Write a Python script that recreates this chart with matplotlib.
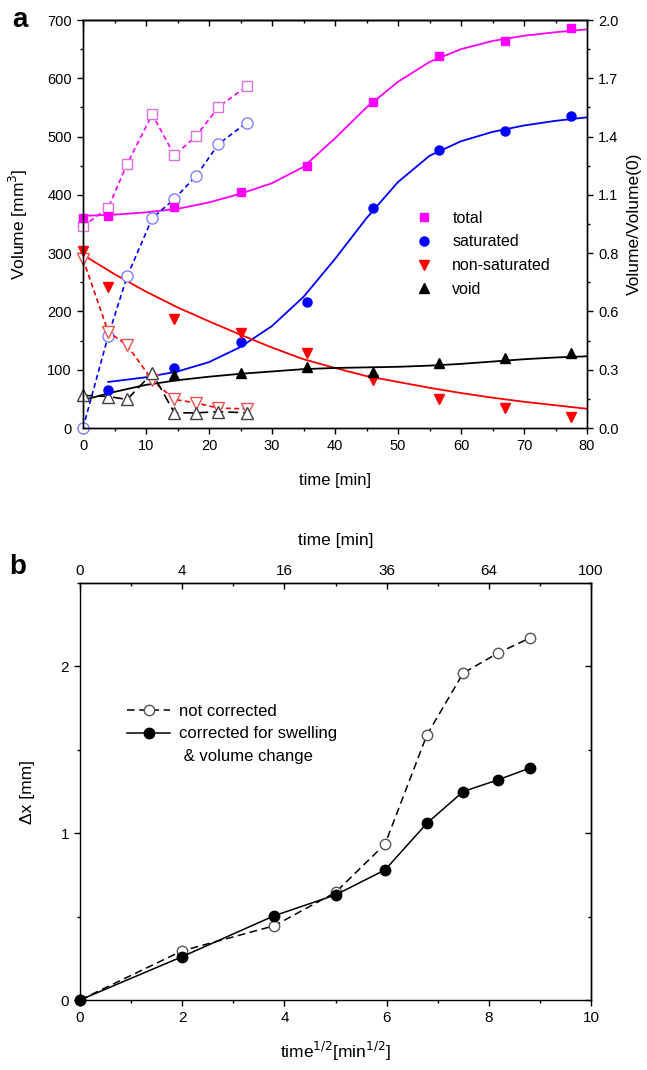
import matplotlib
matplotlib.use("Agg")
import matplotlib.pyplot as plt
from matplotlib.ticker import MultipleLocator, FixedLocator, NullFormatter
from matplotlib.lines import Line2D

plt.rcParams['font.family'] = ['Liberation Sans', 'DejaVu Sans']
plt.rcParams['axes.linewidth'] = 1.0

# ---- panel a: measured volumes (filled) ----
t_meas = [0, 4, 14.5, 25, 35.5, 46, 56.5, 67, 77.5]
total = [360, 363, 380, 405, 450, 560, 638, 664, 686]
t_sat = [4, 14.5, 25, 35.5, 46, 56.5, 67, 77.5]
saturated = [66, 103, 148, 216, 378, 477, 509, 535]
t_nonsat = [0, 4, 14.5, 25, 35.5, 46, 56.5, 67, 77.5]
nonsaturated = [303, 242, 187, 163, 129, 82, 49, 34, 19]
t_void = [14.5, 25, 35.5, 46, 56.5, 67, 77.5]
void = [91, 94, 105, 96, 111, 120, 128]

# fitted curves
t_fit = [0, 5, 10, 15, 20, 25, 30, 35, 40, 45, 50, 55, 60, 65, 70, 75, 80]
total_fit = [364, 366, 370, 376, 387, 402, 420, 448, 497, 550, 594, 628, 650, 664, 673, 679, 684]
nonsat_fit = [297, 264, 234, 207, 183, 160, 138, 118, 103, 89, 79, 69, 60, 52, 45, 39, 33]
void_fit = [48, 62, 74, 82, 88, 93, 97, 101, 103, 104, 105, 107, 110, 114, 118, 121, 123]
t_sat_fit = [4, 10, 15, 20, 25, 30, 35, 40, 45, 50, 55, 60, 65, 70, 75, 80]
sat_fit = [79, 87, 97, 113, 139, 175, 225, 290, 360, 422, 467, 492, 508, 519, 527, 533]

# open symbols (dashed)
t_open = [0, 4, 7, 11, 14.5, 18, 21.5, 26]
total_open = [346, 378, 453, 538, 468, 501, 551, 586]
sat_open = [0, 158, 260, 360, 393, 433, 487, 524]
nonsat_open = [290, 165, 142, 82, 49, 43, 34, 33]
void_open = [56, 54, 49, 94, 26, 26, 28, 26]

v0 = 350
ratio_labels = ['0.0', '0.3', '0.6', '0.8', '1.1', '1.4', '1.7', '2.0']

# ---- panel b ----
sqrt_t = [0, 2.0, 3.8, 5.0, 5.97, 6.79, 7.5, 8.18, 8.8]
dx_not_corr = [0, 0.295, 0.445, 0.645, 0.935, 1.59, 1.96, 2.08, 2.17]
dx_corr = [0, 0.26, 0.505, 0.63, 0.78, 1.06, 1.25, 1.32, 1.39]
top_ticks = [0, 2, 4, 6, 8, 10]

W, H = 647, 1070
fig = plt.figure(figsize=(W / 100, H / 100), dpi=100)

# ================= panel a =================
ax = fig.add_axes([83 / W, 1 - 428 / H, 504 / W, 408 / H])
ax.set_xlim(0, 80)
ax.set_ylim(0, 700)

magenta, blue, red = '#ff00ff', '#0000ff', '#ff0000'

ax.plot(t_fit, total_fit, color=magenta, lw=1.3)
ax.plot(t_sat_fit, sat_fit, color=blue, lw=1.3)
ax.plot(t_fit, nonsat_fit, color=red, lw=1.3)
ax.plot(t_fit, void_fit, color='black', lw=1.3)

ax.plot(t_open, total_open, color=magenta, ls=(0, (3, 2)), lw=1.2,
        marker='s', ms=7, mfc='white', mec='#e070e0', mew=1.0, clip_on=False)
ax.plot(t_open, sat_open, color=blue, ls=(0, (3, 2)), lw=1.2,
        marker='o', ms=8, mfc='white', mec='#8080ff', mew=1.0, clip_on=False)
ax.plot(t_open, nonsat_open, color=red, ls=(0, (3, 2)), lw=1.2,
        marker='v', ms=8, mfc='white', mec='#f05050', mew=1.0, clip_on=False)
ax.plot(t_open, void_open, color='black', ls=(0, (6, 3)), lw=1.2,
        marker='^', ms=8, mfc='white', mec='#404040', mew=1.0, clip_on=False)

h1, = ax.plot(t_meas, total, ls='none', marker='s', ms=6, color=magenta, clip_on=False)
h2, = ax.plot(t_sat, saturated, ls='none', marker='o', ms=6.5, color=blue, clip_on=False)
h3, = ax.plot(t_nonsat, nonsaturated, ls='none', marker='v', ms=7, color=red, clip_on=False)
h4, = ax.plot(t_void, void, ls='none', marker='^', ms=7, color='black', clip_on=False)

ax.legend([h1, h2, h3, h4], ['total', 'saturated', 'non-saturated', 'void'],
          loc='upper left', bbox_to_anchor=(0.66, 0.533), frameon=False,
          fontsize=11.5, handlelength=1.0, handletextpad=1.3, labelspacing=0.55,
          borderpad=0, borderaxespad=0)

ax.xaxis.set_major_locator(MultipleLocator(10))
ax.xaxis.set_minor_locator(MultipleLocator(5))
ax.yaxis.set_major_locator(MultipleLocator(100))
ax.yaxis.set_minor_locator(MultipleLocator(50))
ax.tick_params(which='both', direction='out', labelsize=10.5, top=False, right=False)
ax.tick_params(which='major', length=4.5, width=1.0)
ax.tick_params(which='minor', length=2.5, width=1.0)

top_a = ax.secondary_xaxis('top')
top_a.xaxis.set_major_locator(MultipleLocator(10))
top_a.xaxis.set_minor_locator(MultipleLocator(5))
top_a.tick_params(which='both', direction='in', labeltop=False)
top_a.tick_params(which='major', length=4.5, width=1.0)
top_a.tick_params(which='minor', length=2.5, width=1.0)
top_a.xaxis.set_major_formatter(NullFormatter())

axr = ax.twinx()
axr.set_ylim(0, 700 / v0)
axr.yaxis.set_major_locator(FixedLocator([v / v0 for v in range(0, 701, 100)]))
axr.set_yticklabels(ratio_labels)
axr.yaxis.set_minor_locator(FixedLocator([v / v0 for v in range(50, 701, 100)]))
axr.tick_params(which='both', direction='out', labelsize=10.5)
axr.tick_params(which='major', length=4.5, width=1.0)
axr.tick_params(which='minor', length=2.5, width=1.0)
axr.set_ylabel('Volume/Volume(0)', fontsize=12.5)
axr.yaxis.set_label_coords(1.08, 0.5)

ax.set_xlabel('time [min]', fontsize=12)
ax.xaxis.set_label_coords(0.5, -0.11)
ax.set_ylabel('Volume [mm$^3$]', fontsize=12.5)
ax.yaxis.set_label_coords(-0.105, 0.5)

fig.text(20 / W, 1 - 20 / H, 'a', fontsize=20, fontweight='bold', ha='center', va='center')

# ================= panel b =================
bx = fig.add_axes([80 / W, 70 / H, 511 / W, 417 / H])
bx.set_xlim(0, 10)
bx.set_ylim(0, 2.5)

bx.plot(sqrt_t, dx_not_corr, color='black', ls=(0, (5, 3)), lw=1.1,
        marker='o', ms=7.5, mfc='white', mec='#555555', mew=1.0, clip_on=False,
        label='not corrected')
bx.plot(sqrt_t, dx_corr, color='black', ls='-', lw=1.1,
        marker='o', ms=7.5, mfc='black', mec='black', clip_on=False,
        label='corrected for swelling')
extra = Line2D([], [], ls='none', label=' & volume change')
handles, labels = bx.get_legend_handles_labels()
bx.legend(handles + [extra], labels + [extra.get_label()],
          loc='upper left', bbox_to_anchor=(0.092, 0.71), frameon=False,
          fontsize=12, handlelength=2.6, handletextpad=0.5, labelspacing=0.45,
          borderpad=0, borderaxespad=0)

bx.xaxis.set_major_locator(MultipleLocator(2))
bx.xaxis.set_minor_locator(MultipleLocator(1))
bx.yaxis.set_major_locator(MultipleLocator(1))
bx.yaxis.set_minor_locator(MultipleLocator(0.5))
bx.tick_params(which='both', direction='out', labelsize=11, top=False, right=False)
bx.tick_params(which='major', length=4.5, width=1.0)
bx.tick_params(which='minor', length=2.5, width=1.0)

top_b = bx.secondary_xaxis('top')
top_b.xaxis.set_major_locator(FixedLocator(top_ticks))
top_b.set_xticklabels([str(v * v) for v in top_ticks])
top_b.xaxis.set_minor_locator(MultipleLocator(1))
top_b.tick_params(which='both', direction='in', labelsize=11)
top_b.tick_params(which='major', length=4.5, width=1.0)
top_b.tick_params(which='minor', length=2.5, width=1.0)
top_b.set_xlabel('time [min]', fontsize=12.5, labelpad=14)

right_b = bx.secondary_yaxis('right')
right_b.yaxis.set_major_locator(MultipleLocator(1))
right_b.yaxis.set_minor_locator(MultipleLocator(0.5))
right_b.tick_params(which='both', direction='in', labelright=False)
right_b.tick_params(which='major', length=4.5, width=1.0)
right_b.tick_params(which='minor', length=2.5, width=1.0)

bx.set_xlabel('time$^{1/2}$[min$^{1/2}$]', fontsize=12.5)
bx.xaxis.set_label_coords(0.5, -0.095)
bx.set_ylabel('Δx [mm]', fontsize=12.5)
bx.yaxis.set_label_coords(-0.088, 0.5)

fig.text(18 / W, 1 - 567 / H, 'b', fontsize=20, fontweight='bold', ha='center', va='center')

fig.savefig('out.png', dpi=100)
